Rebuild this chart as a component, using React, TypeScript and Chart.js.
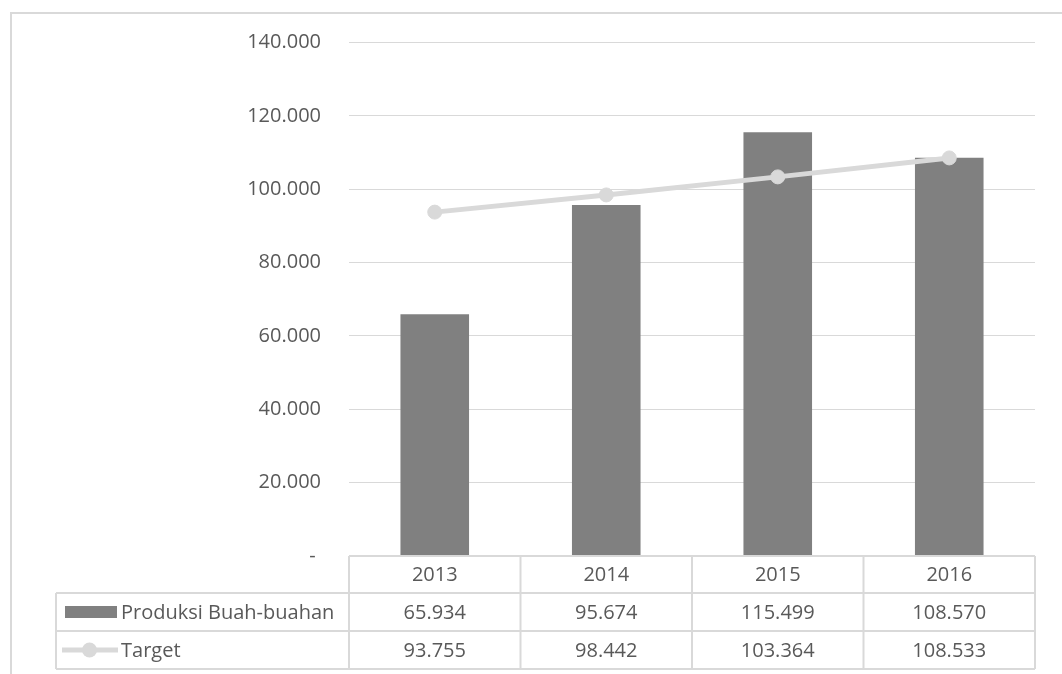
import React, { useEffect, useRef } from "react";
import { Chart, registerables } from "chart.js";

Chart.register(...registerables);

const categories: string[] = ["2013", "2014", "2015", "2016"];
const produksi: number[] = [65934, 95674, 115499, 108570];
const target: number[] = [93755, 98442, 103364, 108533];
const seriesNames: string[] = ["Produksi Buah-buahan", "Target"];
const yMin = 0;
const yMax = 140000;
const yStep = 20000;

const FONT = "'Open Sans', 'Noto Sans', sans-serif";
const TEXT = "#595959";
const LIGHT = "#d9d9d9";
const BAR = "#808080";

function fmt(v: number): string {
  if (v === 0) return "- ";
  return String(Math.round(v)).replace(/\B(?=(\d{3})+(?!\d))/g, ".");
}

const tablePlugin = {
  id: "dataTable",
  beforeDraw(chart: any) {
    const ctx = chart.ctx;
    ctx.save();
    ctx.strokeStyle = LIGHT;
    ctx.lineWidth = 2;
    ctx.beginPath();
    ctx.moveTo(11, 674);
    ctx.lineTo(11, 13);
    ctx.lineTo(1062, 13);
    ctx.stroke();
    ctx.restore();
  },
  afterDraw(chart: any) {
    const ctx = chart.ctx;
    const area = chart.chartArea;
    const xs = chart.scales.x;
    const n = categories.length;
    const colW = (area.right - area.left) / n;
    const tableLeft = 56;
    const y0 = area.bottom;
    const y1 = y0 + 37;
    const y2 = y1 + 38;
    const y3 = y2 + 38;

    ctx.save();
    ctx.strokeStyle = LIGHT;
    ctx.lineWidth = 2;
    ctx.beginPath();
    ctx.moveTo(area.left, y0);
    ctx.lineTo(area.right, y0);
    [y1, y2, y3].forEach((y) => {
      ctx.moveTo(tableLeft, y);
      ctx.lineTo(area.right, y);
    });
    for (let i = 0; i <= n; i++) {
      const x = area.left + i * colW;
      ctx.moveTo(x, y0);
      ctx.lineTo(x, y3);
    }
    ctx.moveTo(tableLeft, y1);
    ctx.lineTo(tableLeft, y3);
    ctx.stroke();

    ctx.fillStyle = TEXT;
    ctx.font = `20px ${FONT}`;
    ctx.textBaseline = "middle";
    ctx.textAlign = "center";
    const rows: number[][] = [produksi, target];
    categories.forEach((c, i) => {
      const cx = xs.getPixelForValue(i);
      ctx.fillText(c, cx, (y0 + y1) / 2 + 1);
      ctx.fillText(fmt(rows[0][i]), cx, (y1 + y2) / 2 + 1);
      ctx.fillText(fmt(rows[1][i]), cx, (y2 + y3) / 2 + 1);
    });

    ctx.textAlign = "left";
    ctx.fillText(seriesNames[0], 121, (y1 + y2) / 2 + 1);
    ctx.fillText(seriesNames[1], 121, (y2 + y3) / 2 + 1);

    // legend keys
    const r1 = (y1 + y2) / 2;
    ctx.fillStyle = BAR;
    ctx.fillRect(65, r1 - 6, 52, 12);
    const r2 = (y2 + y3) / 2;
    ctx.strokeStyle = LIGHT;
    ctx.lineWidth = 5;
    ctx.beginPath();
    ctx.moveTo(62, r2);
    ctx.lineTo(118, r2);
    ctx.stroke();
    ctx.fillStyle = LIGHT;
    ctx.beginPath();
    ctx.arc(89.5, r2, 7.5, 0, Math.PI * 2);
    ctx.fill();
    ctx.restore();
  },
};

export default function App() {
  const ref = useRef<HTMLCanvasElement | null>(null);

  useEffect(() => {
    if (!ref.current) return;
    const chart = new Chart(ref.current, {
      type: "bar",
      data: {
        labels: categories,
        datasets: [
          {
            type: "line",
            label: seriesNames[1],
            data: target,
            borderColor: LIGHT,
            backgroundColor: LIGHT,
            borderWidth: 5,
            pointRadius: 7,
            pointBorderWidth: 1,
            pointBackgroundColor: LIGHT,
            pointBorderColor: LIGHT,
            fill: false,
            tension: 0,
            order: 0,
          } as any,
          {
            type: "bar",
            label: seriesNames[0],
            data: produksi,
            backgroundColor: BAR,
            borderWidth: 0,
            barPercentage: 0.4,
            categoryPercentage: 1,
            order: 1,
          },
        ],
      },
      options: {
        responsive: false,
        animation: false,
        devicePixelRatio: 1,
        layout: { padding: { left: 0, right: 27, top: 42.5, bottom: 118 } },
        plugins: {
          legend: { display: false },
          tooltip: { enabled: false },
        },
        scales: {
          x: { display: false, offset: true },
          y: {
            min: yMin,
            max: yMax,
            border: { display: false },
            grid: { color: LIGHT, lineWidth: 1, drawTicks: false },
            afterFit: (s: any) => {
              s.width = 349;
            },
            ticks: {
              stepSize: yStep,
              padding: 28,
              color: TEXT,
              font: { family: FONT, size: 20 },
              callback: (v: any) => fmt(Number(v)),
            },
          },
        },
      },
      plugins: [tablePlugin],
    });
    return () => chart.destroy();
  }, []);

  return (
    <div style={{ position: "absolute", left: 0, top: 0, width: 1062, height: 674, background: "#fff" }}>
      <canvas ref={ref} width={1062} height={674} style={{ display: "block" }} />
    </div>
  );
}
